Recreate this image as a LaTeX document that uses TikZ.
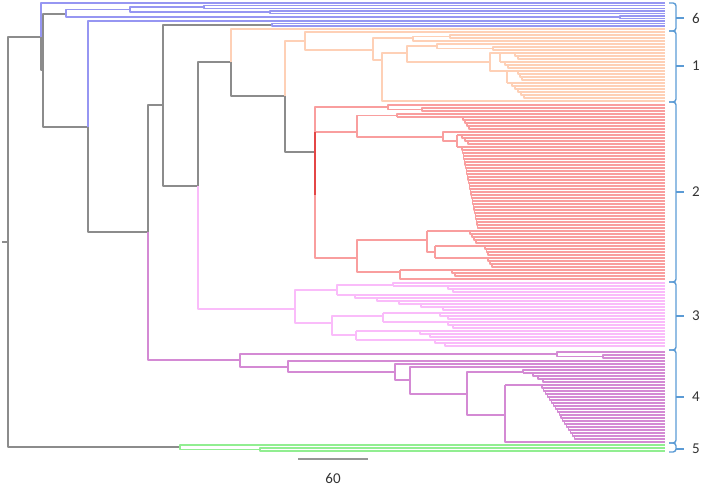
\documentclass[tikz,border=0pt]{standalone}
\usepackage{fontspec}
\setmainfont{Carlito}

\definecolor{trunk}{RGB}{140,140,140}
\definecolor{cladesix}{RGB}{150,150,242}
\definecolor{cladeone}{RGB}{254,208,182}
\definecolor{cladetwo}{RGB}{249,158,158}
\definecolor{cladetwodark}{RGB}{228,70,70}
\definecolor{cladethree}{RGB}{250,188,250}
\definecolor{cladefour}{RGB}{212,138,212}
\definecolor{cladefive}{RGB}{145,238,145}
\definecolor{bracketblue}{RGB}{91,155,213}
\definecolor{scalegray}{RGB}{150,150,150}

% right end of every leaf
\newcommand\xend{665}
% staircase of leaves: style, parent x, first step x, step shift, top leaf y, number of leaves
\newcommand\comb[6]{%
  \draw[#1] (#2,#5) -- (\xend,#5);
  \foreach \k in {2,...,#6}{%
    \draw[#1] ({#3+(\k-2)*#4},{#5+3*(\k-2)}) -- ++(0,3) -- (\xend,{#5+3*(\k-1)});
  }}

\begin{document}
\begin{tikzpicture}[x=1pt, y=-1pt, line join=round,
  bb/.style={trunk, line width=1.1pt},
  c6/.style={cladesix, line width=1.1pt},
  c1/.style={cladeone, line width=1.1pt},
  c2/.style={cladetwo, line width=1.1pt},
  c2d/.style={cladetwodark, line width=1.1pt},
  c3/.style={cladethree, line width=1.1pt},
  c4/.style={cladefour, line width=1.1pt},
  c5/.style={cladefive, line width=1.1pt},
  brk/.style={bracketblue, line width=1.4pt, rounded corners=3pt},
  lab/.style={font=\fontsize{15}{18}\selectfont, text=black!80, inner sep=0pt}]
  \useasboundingbox (0,0) rectangle (706,486);

  % Gray backbone of the tree
  \draw[bb] (2,242) -- (8,242);
  \draw[bb] (41,37) -- (8,37) -- (8,447) -- (180,447);
  \draw[bb] (41,37) -- (41,70) -- (43,70);
  \draw[bb] (66,14) -- (43,14) -- (43,127) -- (88,127);
  \draw[bb] (88,127) -- (88,232) -- (148,232);
  \draw[bb] (163,105) -- (148,105) -- (148,232);
  \draw[bb] (272,25) -- (163,25) -- (163,186) -- (198,186);
  \draw[bb] (231,62) -- (198,62) -- (198,186);
  \draw[bb] (231,62) -- (231,96) -- (285,96);
  \draw[bb] (285,96) -- (285,152) -- (315,152);

  % Cluster 6 (blue)
  \draw[c6] (41,37) -- (41,3) -- (\xend,3);
  \draw[c6] (88,127) -- (88,21) -- (\xend,21);
  \draw[c6] (130,9.5) -- (66,9.5) -- (66,17) -- (620,17);
  \draw[c6] (\xend,16) -- (620,16) -- (620,18.5) -- (\xend,18.5);
  \draw[c6] (204,7) -- (130,7) -- (130,12) -- (270,12);
  \draw[c6] (\xend,5.5) -- (204,5.5) -- (204,8.5) -- (\xend,8.5);
  \draw[c6] (\xend,11) -- (270,11) -- (270,13.5) -- (\xend,13.5);
  \draw[c6] (\xend,23.5) -- (272,23.5) -- (272,26) -- (\xend,26);

  % Cluster 1 (orange)
  \draw[c1] (231,62) -- (231,29) -- (\xend,29);
  \draw[c1] (285,96) -- (285,41) -- (305,41);
  \draw[c1] (\xend,32) -- (305,32) -- (305,50) -- (373,50);
  \draw[c1] (413,38) -- (373,38) -- (373,60) -- (382,60);
  \draw[c1] (450,36.5) -- (413,36.5) -- (413,41) -- (\xend,41);
  \draw[c1] (\xend,35) -- (450,35) -- (450,38) -- (\xend,38);
  \draw[c1] (407,53) -- (382,53) -- (382,101) -- (\xend,101);
  \draw[c1] (437,46) -- (407,46) -- (407,62) -- (490,62);
  \draw[c1] (\xend,44) -- (437,44) -- (437,48.5) -- (493,48.5);
  \draw[c1] (\xend,47) -- (493,47) -- (493,50) -- (\xend,50);
  \draw[c1] (500,53) -- (490,53) -- (490,71) -- (507,71);
  \draw[c1] (500,53) -- (500,62);
  \comb{c1}{500}{515}{3}{53}{3}
  \comb{c1}{500}{505}{3}{62}{3}
  \draw[c1] (507,71) -- (507,83);
  \comb{c1}{507}{518}{2}{71}{4}
  \comb{c1}{507}{512}{3}{83}{6}

  % Cluster 2 (red)
  \draw[c2] (388,107) -- (315,107) -- (315,258) -- (357,258);
  \draw[c2] (315,132) -- (357,132);
  \draw[c2d] (315,132) -- (315,195);
  \draw[c2] (\xend,105) -- (388,105) -- (388,109.5) -- (422,109.5);
  \draw[c2] (\xend,108) -- (422,108) -- (422,111) -- (\xend,111);
  \draw[c2] (397,115.5) -- (357,115.5) -- (357,137) -- (443,137);
  \draw[c2] (\xend,114) -- (397,114) -- (397,117);
  \comb{c2}{397}{463}{2}{117}{5}
  \draw[c2] (\xend,132) -- (443,132) -- (443,141) -- (457,141);
  \draw[c2] (457,135) -- (457,147);
  \comb{c2}{457}{462}{3}{135}{4}
  \comb{c2}{457}{462}{0.6}{147}{28}
  \draw[c2] (427,240) -- (357,240) -- (357,272) -- (400,272);
  \draw[c2] (427,231) -- (427,252) -- (435,252);
  \comb{c2}{427}{470}{2}{231}{5}
  \draw[c2] (435,246) -- (435,258);
  \comb{c2}{435}{485}{1.5}{246}{4}
  \comb{c2}{435}{488}{2}{258}{4}
  \draw[c2] (400,270) -- (400,279) -- (\xend,279);
  \comb{c2}{400}{452}{3}{270}{3}

  % Cluster 3 (pink)
  \draw[c3] (198,186) -- (198,309) -- (295,309);
  \draw[c3] (337,290) -- (295,290) -- (295,323) -- (332,323);
  \draw[c3] (393,285) -- (337,285) -- (337,295);
  \comb{c3}{337}{355}{22}{295}{6}
  \draw[c3] (\xend,283) -- (393,283) -- (393,286);
  \comb{c3}{393}{448}{5}{286}{3}
  \draw[c3] (383,316) -- (332,316) -- (332,335) -- (356,335);
  \draw[c3] (383,313) -- (383,322);
  \comb{c3}{383}{440}{8}{313}{3}
  \comb{c3}{383}{448}{5}{322}{3}
  \draw[c3] (356,331) -- (356,340);
  \comb{c3}{356}{420}{10}{331}{3}
  \comb{c3}{356}{435}{10}{340}{3}

  % Cluster 4 (purple)
  \draw[c4] (148,232) -- (148,360) -- (240,360);
  \draw[c4] (557,354) -- (240,354) -- (240,367) -- (288,367);
  \draw[c4] (\xend,352) -- (557,352) -- (557,356.5) -- (603,356.5);
  \draw[c4] (\xend,355) -- (603,355) -- (603,358) -- (\xend,358);
  \draw[c4] (\xend,361) -- (288,361) -- (288,372) -- (395,372);
  \draw[c4] (\xend,364) -- (395,364) -- (395,380) -- (410,380);
  \draw[c4] (\xend,367) -- (410,367) -- (410,394) -- (467,394);
  \draw[c4] (523,372) -- (467,372) -- (467,415) -- (505,415);
  \draw[c4] (\xend,370) -- (523,370) -- (523,373);
  \comb{c4}{523}{533}{5}{373}{4}
  \draw[c4] (505,385) -- (505,442) -- (\xend,442);
  \comb{c4}{505}{542}{1.9}{385}{19}

  % Cluster 5 (green)
  \draw[c5] (180,447) -- (180,445) -- (\xend,445);
  \draw[c5] (180,447) -- (180,449.5) -- (260,449.5);
  \draw[c5] (\xend,448) -- (260,448) -- (260,451) -- (\xend,451);

  % Cluster brackets and numbers
  \foreach \ya/\yb/\ym/\lab in {3/31/18/6, 31/102/66/1, 102/282/192/2,
                                282/350/316/3, 350/443/397/4, 443/452/449/5} {
    \draw[brk] (669,\ya) -- (676,\ya) -- (676,\yb) -- (669,\yb);
    \draw[brk] (676,\ym) -- (684,\ym);
    \node[lab, anchor=west] (num\lab) at (692,\ym) {\lab};
  }

  % Scale bar
  \coordinate (sbl) at (298,459);
  \coordinate (sbr) at (368,459);
  \draw[scalegray, line width=1.4pt] (sbl) -- (sbr);
  \node[lab] (scale) at (333,478) {60};
\end{tikzpicture}
\end{document}
